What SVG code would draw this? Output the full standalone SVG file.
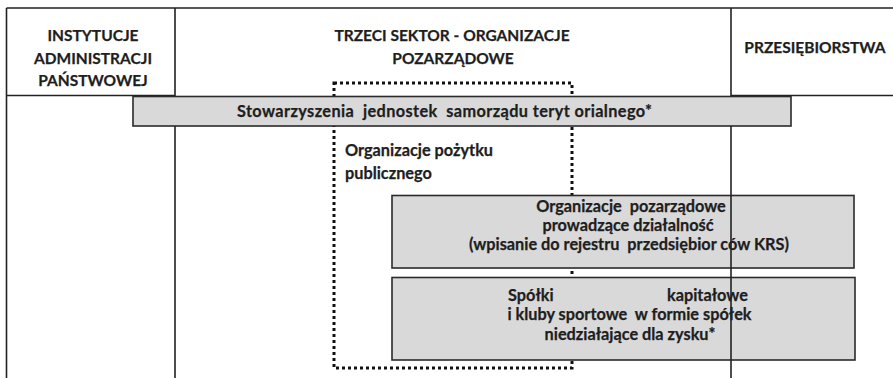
<svg xmlns="http://www.w3.org/2000/svg" width="893" height="378" viewBox="0 0 893 378">
<style>
.ln{stroke:#222;stroke-width:1.6;fill:none}
.box{fill:#d9d9d9;stroke:#2a2a2a;stroke-width:1.6}
.t{font-family:Lato,"Open Sans","Liberation Sans",sans-serif;font-weight:bold;font-size:15.5px;fill:#1e1e1e;text-anchor:middle;stroke:#1e1e1e;stroke-width:0.25}
.b{font-size:16.3px}
.l{text-anchor:start}
.dot{fill:none;stroke:#111;stroke-width:3;stroke-dasharray:3 3}
</style>
<rect width="893" height="378" fill="#fff"/>
<g id="grid">
<path class="ln" d="M6.5 8H893M6.5 8V378M175 8V97M175 126V378M6.5 95.5H175M731 8V97M731 95.5H893"/>
</g>
<g id="col-admin">
<text class="t" x="93" y="40.5">INSTYTUCJE</text>
<text class="t" x="93" y="63.5">ADMINISTRACJI</text>
<text class="t" x="93" y="86">PAŃSTWOWEJ</text>
</g>
<g id="col-trzeci">
<text class="t" x="452" y="40.5">TRZECI SEKTOR - ORGANIZACJE</text>
<text class="t" x="453" y="63.5">POZARZĄDOWE</text>
</g>
<g id="col-przedsiebiorstwa">
<text class="t" x="815" y="53">PRZESIĘBIORSTWA</text>
</g>
<g id="opp">
<rect class="dot" x="334" y="83" width="238" height="285"/>
<text class="t b l" x="345" y="156">Organizacje pożytku</text>
<text class="t b l" x="345" y="179">publicznego</text>
</g>
<g id="stowarzyszenia">
<rect class="box" x="133" y="96.5" width="658" height="29.5"/>
<text class="t b l" x="237" y="117" xml:space="preserve" textLength="415" lengthAdjust="spacing">Stowarzyszenia  jednostek  samorządu teryt orialnego*</text>
</g>
<g id="ngo-dzialalnosc">
<rect class="box" x="392" y="195.5" width="462" height="72.5"/>
<text class="t b" x="631" y="212" xml:space="preserve">Organizacje  pozarządowe</text>
<text class="t b" x="628" y="231">prowadzące działalność</text>
<text class="t b" x="629" y="250" xml:space="preserve">(wpisanie do rejestru  przedsiębior ców KRS)</text>
</g>
<g id="spolki">
<rect class="box" x="392" y="277.5" width="463" height="82.5"/>
<text class="t b l" x="508" y="301">Spółki</text>
<text class="t b l" x="667" y="301">kapitałowe</text>
<text class="t b" x="629.5" y="320" xml:space="preserve">i kluby sportowe  w formie spółek</text>
<text class="t b" x="630" y="340">niedziałające dla zysku*</text>
</g>
<g id="connectors">
<path class="ln" d="M731 126V378"/>
</g>
</svg>
